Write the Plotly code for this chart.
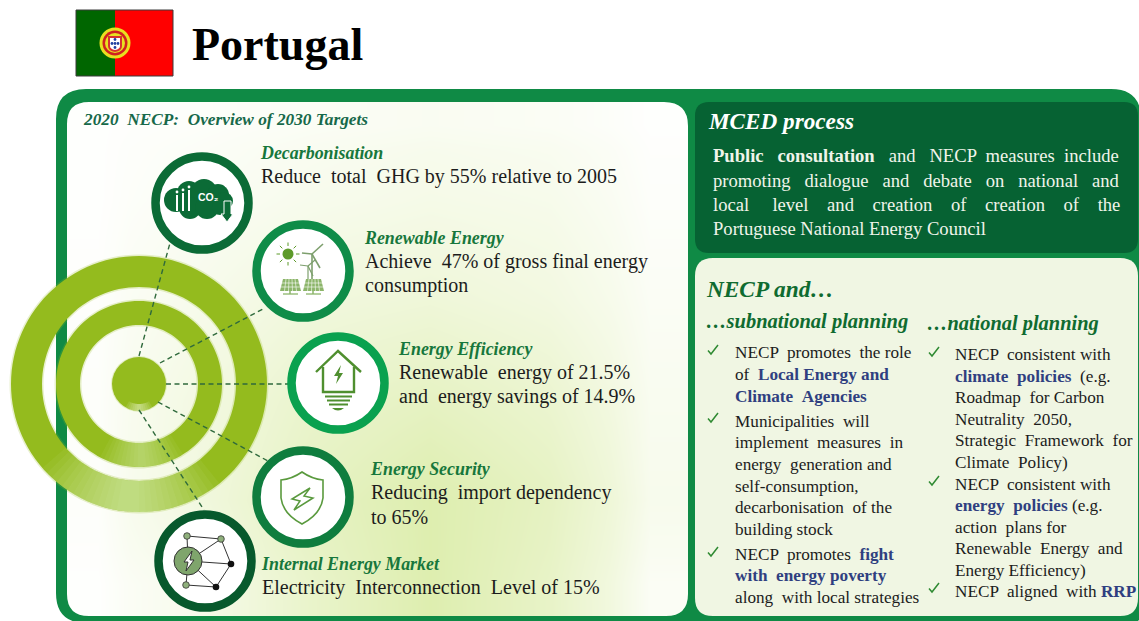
import math
import re
import plotly.graph_objects as go

W, H = 1139, 621
SERIF = "Liberation Serif"
NB = "\u00a0"

# ---- text content -------------------------------------------------------
TITLE = "Portugal"
OVERVIEW = "2020 NECP: Overview of 2030 Targets"
TARGET_HEADS = ["Decarbonisation", "Renewable Energy", "Energy Efficiency", "Energy Security", "Internal Energy Market"]
TARGET_LINES = [
    ["Reduce total GHG by 55% relative to 2005"],
    ["Achieve 47% of gross final energy", "consumption"],
    ["Renewable energy of 21.5%", "and energy savings of 14.9%"],
    ["Reducing import dependency", "to 65%"],
    ["Electricity Interconnection Level of 15%"],
]
TARGET_EXTRA = [[2], [1, 0], [1, 1], [1, 0], [2]]
TARGET_X = [261, 365, 399, 371, 262]
TARGET_HEAD_Y = [153, 238, 349, 469, 564]
MCED_HEAD = "MCED process"
MCED_LINES = [
    "<b>Public consultation</b> and NECP measures include",
    "promoting dialogue and debate on national and",
    "local level and creation of creation of the",
    "Portuguese National Energy Council",
]
MCED_EXTRA = [8, 12, 22, 0]
MCED_Y = [155, 180, 204, 228]
BLUE = "#2f3f80"
def hl(s):
    return f'<span style="color:{BLUE}"><b>{s}</b></span>'
SUB_LINES = [
    "NECP promotes the role", "of " + hl("Local Energy and"), hl("Climate Agencies"),
    "Municipalities will", "implement measures in", "energy generation and",
    "self-consumption,", "decarbonisation of the", "building stock",
    "NECP promotes " + hl("fight"), hl("with energy poverty"), "along with local strategies",
]
SUB_EXTRA = [2, 1, 1, 1, 2, 1, 0, 1, 0, 2, 1, 1]
SUB_Y = [352, 374, 396, 421, 442, 464, 486, 507, 529, 554, 575, 597]
SUB_CHECK_Y = [350, 418, 552]
NAT_LINES = [
    "NECP consistent with", hl("climate policies") + " (e.g.", "Roadmap for Carbon",
    "Neutrality 2050,", "Strategic Framework for", "Climate Policy)",
    "NECP consistent with", hl("energy policies") + " (e.g.", "action plans for",
    "Renewable Energy and", "Energy Efficiency)", "NECP aligned with " + hl("RRP"),
]
NAT_EXTRA = [1, 2, 1, 1, 2, 1, 1, 1, 1, 2, 0, 2]
NAT_Y = [354, 376, 397, 419, 440, 462, 484, 505, 527, 548, 570, 591]
NAT_CHECK_Y = [352, 481, 588]

# Hand-read tint of the left panel background (0 = white, 1 = palest green)
TINT_X = [66, 130, 250, 370, 490, 610, 690]
TINT_Y = [101, 150, 250, 350, 450, 550, 617]
TINT_Z = [
    [0.02, 0.06, 0.12, 0.16, 0.12, 0.02],
    [0.02, 0.12, 0.22, 0.28, 0.24, 0.06],
    [0.04, 0.22, 0.40, 0.46, 0.36, 0.12],
    [0.06, 0.32, 0.60, 0.72, 0.56, 0.18],
    [0.06, 0.36, 0.72, 0.95, 0.72, 0.22],
    [0.02, 0.22, 0.62, 0.95, 0.66, 0.12],
]

GREEN = "#0f8a45"
shapes, annos = [], []


def spread(s, extra):
    """Widen a line's word gaps with extra no-break spaces, as the justified text does."""
    parts = re.split(r"(<[^>]+>)", s)
    gaps = sum(p.count(" ") for p in parts if not p.startswith("<"))
    if not gaps or not extra:
        return s
    base, rem = divmod(extra, gaps)
    out, idx = [], 0
    for p in parts:
        if p.startswith("<"):
            out.append(p)
            continue
        buf = ""
        for ch in p:
            buf += ch
            if ch == " ":
                buf += NB * (base + (1 if idx < rem else 0))
                idx += 1
        out.append(buf)
    return "".join(out)


def path(d, fill=None, line=None, w=1, dash=None):
    shapes.append(dict(type="path", path=d, xref="x", yref="y", layer="above",
                       fillcolor=fill or "rgba(0,0,0,0)",
                       line=dict(color=line or "rgba(0,0,0,0)", width=w if line else 0, dash=dash or "solid")))


def pstr(pts, close=False):
    return "M " + " L ".join(f"{x:.2f},{y:.2f}" for x, y in pts) + (" Z " if close else "")


def poly(pts, close=False, **kw):
    path(pstr(pts, close), **kw)


def circle(cx, cy, r, fill=None, line=None, w=1):
    shapes.append(dict(type="circle", xref="x", yref="y", layer="above", x0=cx - r, x1=cx + r, y0=cy - r, y1=cy + r,
                       fillcolor=fill or "rgba(0,0,0,0)",
                       line=dict(color=line or "rgba(0,0,0,0)", width=w if line else 0)))


def rect(x0, y0, x1, y1, fill, line=None, w=1):
    shapes.append(dict(type="rect", xref="x", yref="y", layer="above", x0=x0, x1=x1, y0=y0, y1=y1, fillcolor=fill,
                       line=dict(color=line or "rgba(0,0,0,0)", width=w if line else 0)))


def rr(x0, y0, x1, y1, tl, tr, br, bl):
    return (f"M {x0+tl},{y0} L {x1-tr},{y0} Q {x1},{y0} {x1},{y0+tr} L {x1},{y1-br} Q {x1},{y1} {x1-br},{y1} "
            f"L {x0+bl},{y1} Q {x0},{y1} {x0},{y1-bl} L {x0},{y0+tl} Q {x0},{y0} {x0+tl},{y0} Z ")


def text(x, y, s, size, color="#1c1c1c", family=SERIF, anchor="left"):
    annos.append(dict(x=x - 2, y=y, xref="x", yref="y", text=s, showarrow=False, xanchor=anchor, yanchor="middle",
                      font=dict(family=family, size=size, color=color), borderpad=0))


def arc_pts(cx, cy, r, a0, a1, n=72):
    a, b = math.radians(a0), math.radians(a1)
    return [(cx + r * math.cos(a + (b - a) * i / n), cy + r * math.sin(a + (b - a) * i / n)) for i in range(n + 1)]


def sector(cx, cy, r0, r1, a0, a1, fill):
    poly(arc_pts(cx, cy, r1, a0, a1, 24) + arc_pts(cx, cy, r0, a1, a0, 24), fill=fill, close=True)


def ring(cx, cy, r0, r1, fill):
    path(pstr(arc_pts(cx, cy, r1, 0, 360, 120), True) + pstr(arc_pts(cx, cy, r0, 0, 360, 120), True), fill=fill)


# ---- frame with hole for the left panel -----------------------------------
path(rr(56, 89, 1141, 623, 30, 30, 10, 30) + rr(67, 102, 688, 616, 22, 24, 22, 22), fill=GREEN)
path(rr(695, 102, 1138, 253, 14, 14, 14, 14), fill="#066233")
path(rr(695, 258, 1138, 616, 18, 18, 18, 18), fill="#f0f6e3")

# ---- flag -----------------------------------------------------------------
rect(76, 10, 115, 76, "#006600")
rect(115, 10, 173, 76, "#ff0000")
rect(76, 10, 173, 76, "rgba(0,0,0,0)", line="#3a3a3a", w=1)
circle(115, 43, 15.5, fill="#e8e020")
circle(115, 43, 12.5, fill="#d02020")
circle(115, 43, 10, fill="#e8e020")
path("M 108,36 L 122,36 L 122,46 Q 122,51 115,52 Q 108,51 108,46 Z", fill="#d83030")
path("M 110,38 L 120,38 L 120,46 Q 120,49 115,50 Q 110,49 110,46 Z", fill="#ffffff")
for dx, dy in [(0, 0), (-3, 0), (3, 0), (0, -4), (0, 4)]:
    circle(115 + dx, 43.5 + dy, 1.4, fill="#2040a0")

# ---- target rings ---------------------------------------------------------
RING = "#94bb1e"
GLOW = "rgba(148,187,30,0.22)"
CX, CY = 139, 384
ring(CX, CY, 95.5, 129.5, GLOW)
ring(CX, CY, 57.5, 84.5, GLOW)
circle(CX, CY, 28, fill=GLOW)
ring(CX, CY, 97, 128, RING)
ring(CX, CY, 59, 83, RING)
circle(CX, CY, 27, fill=RING)
for k in range(14):
    half = 44 - k * 3
    sector(CX, CY, 97, 128, 95 - half, 95 + half, "rgba(240,246,210,0.055)")
for k in range(10):
    half = 30 - k * 3
    sector(CX, CY, 59, 83, 88 - half, 88 + half, "rgba(240,246,210,0.05)")
for k in range(6):
    half = 30 - k * 5
    sector(CX, CY, 20, 27, 90 - half, 90 + half, "rgba(240,246,210,0.12)")

# ---- dashed spokes --------------------------------------------------------
for a, b in [((139, 356), (170, 243)), ((160, 363), (265, 308)), ((166, 384), (288, 384)),
             ((158, 402), (268, 461)), ((139, 410), (204, 510))]:
    poly([a, b], line="#2f6a3c", w=1.4, dash="5px,3.5px")

# ---- icon circles ---------------------------------------------------------
for cx, cy, col in [(202, 203, "#0b6b36"), (303, 271, "#0f8c48"), (338, 383, "#0aa14f"),
                    (303, 497, "#0f7d3e"), (205, 561, "#07592c")]:
    circle(cx, cy, 46.5, fill="#ffffff", line=col, w=8.5)

# decarbonisation: cloud
CL = "#0b6b36"
for cx, cy, r in [(176, 200, 12), (189, 193, 12), (204, 192, 13), (218, 195, 11), (224, 201, 9), (190, 208, 11),
                  (207, 207, 12), (220, 207, 8)]:
    circle(cx, cy, r, fill=CL)
for x, y0 in [(177, 195), (183, 193), (189, 190)]:
    rect(x - 1, y0, x + 1, 211, "#ffffff")
circle(177, 192, 1.4, fill="#ffffff"); circle(183, 190, 1.4, fill="#ffffff"); circle(189, 187, 1.4, fill="#ffffff")
text(199, 197, "<b>CO₂</b>", 10.5, "#ffffff", "Liberation Sans")
poly([(216, 180), (222, 181), (226, 187)], line="#ffffff", w=1.3)
poly([(224, 201), (231, 201), (231, 214), (233, 214), (227, 222), (221, 214), (224, 214)], fill=CL, line="#ffffff", w=1, close=True)

# renewable: sun, turbines, panels
SUN = "#5d9a2a"
circle(288, 254, 5.5, fill=SUN)
for i in range(8):
    a = i * math.pi / 4
    poly([(288 + 8 * math.cos(a), 254 + 8 * math.sin(a)), (288 + 11.5 * math.cos(a), 254 + 11.5 * math.sin(a))], line=SUN, w=1)
TUR = "#7d9f6d"
poly([(312, 254), (312, 287)], line=TUR, w=1.6)
poly([(312, 254), (323, 244)], line=TUR, w=1.6)
poly([(312, 254), (302, 253)], line=TUR, w=1.6)
poly([(312, 254), (320, 268)], line=TUR, w=1.6)
poly([(308, 266), (308, 288)], line=TUR, w=1.2)
poly([(308, 266), (315, 260)], line=TUR, w=1.2)
poly([(308, 266), (300, 265)], line=TUR, w=1.2)
poly([(308, 266), (313, 276)], line=TUR, w=1.2)
for x0 in (280, 303):
    poly([(x0 + 3, 279), (x0 + 18, 279), (x0 + 21, 291), (x0, 291)], fill="#8cb56a", close=True)
    for k in (1, 2, 3, 4):
        poly([(x0 + 3 + 3 * k, 279), (x0 + 4 * k + 0.5, 291)], line="#ffffff", w=0.6)
    for yy in (283, 287):
        poly([(x0 + 1, yy), (x0 + 20, yy)], line="#ffffff", w=0.6)
    poly([(x0 + 10, 291), (x0 + 10, 294)], line="#8cb56a", w=1.5)
    poly([(x0 + 3, 294), (x0 + 18, 294)], line="#8cb56a", w=1.3)

# efficiency: house bulb
HB = "#4f8f2f"
poly([(316, 372), (338, 351), (361, 372)], line=HB, w=2.4)
poly([(323, 367), (323, 392), (354, 392), (354, 367)], line=HB, w=2.4)
poly([(341, 365), (334, 376), (338, 376), (336, 384), (343, 373), (339, 373)], fill=HB, close=True)
for yy, a, b in [(396.5, 325, 352), (400.5, 327, 350), (404.5, 329, 348)]:
    poly([(a, yy), (b, yy)], line=HB, w=2)
path("M 332,408 Q 338,413 344,408 Z", fill=HB)

# security: shield bolt
SH = "#5a9a3e"
path("M 302,472 Q 292,479 281,480 L 281,498 Q 283,514 302,524 Q 321,514 323,498 L 323,480 Q 312,479 302,472 Z", line=SH, w=1.6)
poly([(310, 488), (292, 499), (300, 501), (294, 510), (313, 498), (304, 496)], line=SH, w=1.5, close=True)

# internal market: network
NODES = [(187, 536), (221, 539), (231, 564), (216, 587), (186, 585)]
for a, b in [(0, 1), (1, 2), (2, 3), (3, 4)]:
    poly([NODES[a], NODES[b]], line="#333333", w=1)
for n in NODES:
    poly([(188, 561), n], line="#333333", w=1)
circle(188, 561, 14, fill="#7fa56c", line="#333333", w=1)
poly([(192, 551), (184, 562), (188, 562), (186, 571), (194, 560), (190, 560)], fill="#ffffff", line="#333333", w=1, close=True)
for i, n in enumerate(NODES):
    if i in (2, 3):
        circle(*n, 3.3, fill="#111111")
    else:
        circle(*n, 3.3, fill="#8fb07c", line="#333333", w=0.8)

# checks
CHK = "#2f8a32"
for xc, ys in [(713, SUB_CHECK_Y), (934, NAT_CHECK_Y)]:
    for y in ys:
        poly([(xc - 5, y + 0.5), (xc - 2, y + 4), (xc + 5, y - 5)], line=CHK, w=1.5)

# ---- text -----------------------------------------------------------------
text(193, 44, f"<b>{TITLE}</b>", 46, "#000000")
text(84, 119, f"<b><i>{spread(OVERVIEW, 2)}</i></b>", 17.3, "#17694a")
HEAD = "#17773c"
for x, y, h, lines, ex in zip(TARGET_X, TARGET_HEAD_Y, TARGET_HEADS, TARGET_LINES, TARGET_EXTRA):
    text(x, y, f"<b><i>{h}</i></b>", 17.9, HEAD)
    for i, l in enumerate(lines):
        text(x + 1, y + 23.5 + i * 24, spread(l, ex[i]), 20)
text(709, 121, f"<b><i>{MCED_HEAD}</i></b>", 23.2, "#ffffff")
for y, l, ex in zip(MCED_Y, MCED_LINES, MCED_EXTRA):
    text(714, y, spread(l, ex), 18.6, "#f0f4ea")
text(707, 289, "<b><i>NECP and…</i></b>", 23.3, "#0f6b30")
text(707, 321, "<b><i>…subnational planning</i></b>", 20.5, "#0f6b30")
text(928, 323, "<b><i>…national planning</i></b>", 20.4, "#0f6b30")
for y, l, ex in zip(SUB_Y, SUB_LINES, SUB_EXTRA):
    text(736, y, spread(l, ex), 17.2)
for y, l, ex in zip(NAT_Y, NAT_LINES, NAT_EXTRA):
    text(956, y, spread(l, ex), 17.2)

fig = go.Figure(go.Heatmap(x=TINT_X, y=TINT_Y, z=TINT_Z, zmin=0, zmax=1, zsmooth="best", showscale=False,
                           hoverinfo="skip", colorscale=[[0, "#ffffff"], [1, "#dcedab"]]))
fig.update_layout(width=W, height=H, margin=dict(l=0, r=0, t=0, b=0), paper_bgcolor="#ffffff", plot_bgcolor="#ffffff",
                  shapes=shapes, annotations=annos, showlegend=False,
                  xaxis=dict(range=[0, W], visible=False, fixedrange=True),
                  yaxis=dict(range=[H, 0], visible=False, fixedrange=True))
fig.write_html("out.html", config={"displayModeBar": False},
               post_script="document.body.style.margin='0';document.documentElement.style.overflow='hidden';")
